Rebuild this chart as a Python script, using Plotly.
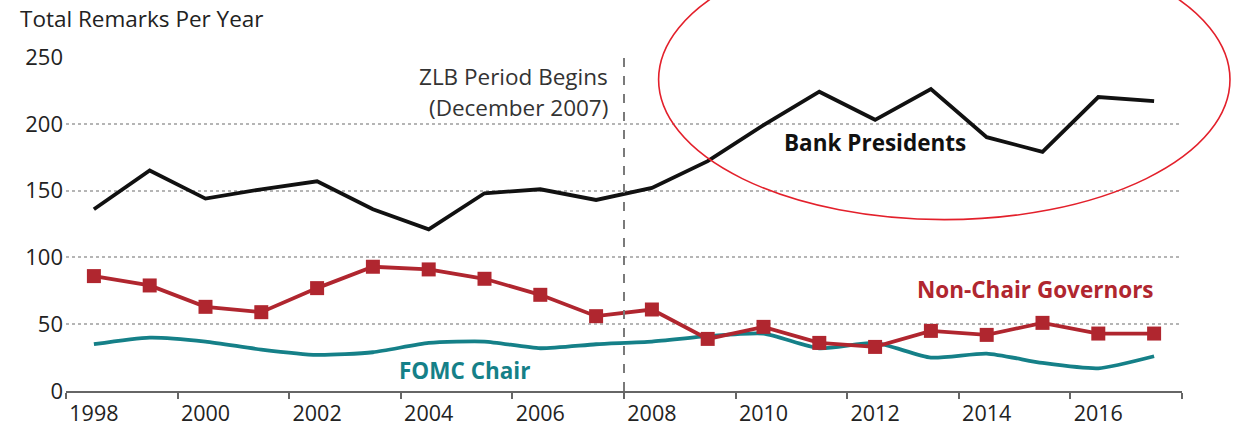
import plotly.graph_objects as go

years = list(range(1998, 2018))
bank_presidents = [136, 165, 144, 151, 157, 136, 121, 148, 151, 143, 152, 172, 199, 224, 203, 226, 190, 179, 220, 217]
non_chair_governors = [86, 79, 63, 59, 77, 93, 91, 84, 72, 56, 61, 39, 48, 36, 33, 45, 42, 51, 43, 43]
fomc_chair = [35, 40, 37, 31, 27, 29, 36, 37, 32, 35, 37, 41, 43, 32, 36, 25, 28, 21, 17, 26]
x_tick_years = [1998, 2000, 2002, 2004, 2006, 2008, 2010, 2012, 2014, 2016]
y_ticks = [0, 50, 100, 150, 200, 250]
zlb_start = 2007.5

FONT = "Open Sans"
BLACK = "#111111"
RED = "#b0262f"
TEAL = "#158088"

fig = go.Figure()
fig.add_trace(go.Scatter(x=years, y=fomc_chair, mode="lines",
                         line=dict(color=TEAL, width=3.8, shape="spline", smoothing=0.6),
                         hoverinfo="skip"))
fig.add_trace(go.Scatter(x=years, y=non_chair_governors, mode="lines+markers",
                         line=dict(color=RED, width=3.8),
                         marker=dict(symbol="square", size=14, color=RED),
                         hoverinfo="skip"))
fig.add_trace(go.Scatter(x=years, y=bank_presidents, mode="lines",
                         line=dict(color=BLACK, width=3.8),
                         hoverinfo="skip"))

fig.add_shape(type="line", xref="x", yref="paper", x0=zlb_start, x1=zlb_start, y0=0, y1=1,
              line=dict(color="#7a7a7a", width=2, dash="dash"))
fig.add_shape(type="circle", xref="paper", yref="paper",
              x0=0.531, x1=1.043, y0=0.513, y1=1.352,
              line=dict(color="#e3202b", width=1.6))

fig.add_annotation(text="Total Remarks Per Year", xref="paper", yref="paper",
                   x=-0.043, y=1.115, xanchor="left", yanchor="middle", showarrow=False,
                   font=dict(family=FONT, size=22.5, color="#222222"))
fig.add_annotation(text="ZLB Period Begins", xref="x", yref="y", x=2007.25, y=235.3,
                   xanchor="right", yanchor="middle", showarrow=False,
                   font=dict(family=FONT, size=22.5, color="#333333"))
fig.add_annotation(text="(December 2007)", xref="x", yref="y", x=2007.25, y=212,
                   xanchor="right", yanchor="middle", showarrow=False,
                   font=dict(family=FONT, size=22.5, color="#333333"))
fig.add_annotation(text="<b>Bank Presidents</b>", xref="x", yref="y", x=2012.0, y=186,
                   xanchor="center", yanchor="middle", showarrow=False,
                   font=dict(family=FONT, size=22.5, color=BLACK))
fig.add_annotation(text="<b>Non-Chair Governors</b>", xref="x", yref="y", x=2014.88, y=75.7,
                   xanchor="center", yanchor="middle", showarrow=False,
                   font=dict(family=FONT, size=22.5, color=RED))
fig.add_annotation(text="<b>FOMC Chair</b>", xref="x", yref="y", x=2004.64, y=15.7,
                   xanchor="center", yanchor="middle", showarrow=False,
                   font=dict(family=FONT, size=22.5, color=TEAL))

fig.update_layout(
    width=1241, height=428,
    margin=dict(l=66, r=59, t=57, b=37, autoexpand=False),
    paper_bgcolor="white", plot_bgcolor="white",
    showlegend=False,
    font=dict(family=FONT, size=22, color="#222222"),
)
fig.update_xaxes(range=[1997.5, 2017.5], tickvals=x_tick_years, ticktext=[str(v) for v in x_tick_years],
                 ticks="", showgrid=False, zeroline=False, automargin=False,
                 showline=True, linecolor="#666666", linewidth=2,
                 ticklabelstandoff=2,
                 minor=dict(tick0=1997.5, dtick=2, ticks="outside", ticklen=6,
                            tickwidth=2, tickcolor="#666666", showgrid=False),
                 tickfont=dict(family=FONT, size=21.5, color="#222222"))
fig.update_yaxes(range=[0, 250], tickvals=y_ticks, ticks="", showline=False, zeroline=False,
                 showgrid=True, gridcolor="#b5b5b5", gridwidth=1.5, griddash="dot",
                 automargin=False, ticklabelstandoff=2,
                 tickfont=dict(family=FONT, size=22, color="#222222"))

fig.write_html("out.html", config={"displayModeBar": False},
               post_script="document.body.style.margin='0';document.body.style.overflow='hidden';")
